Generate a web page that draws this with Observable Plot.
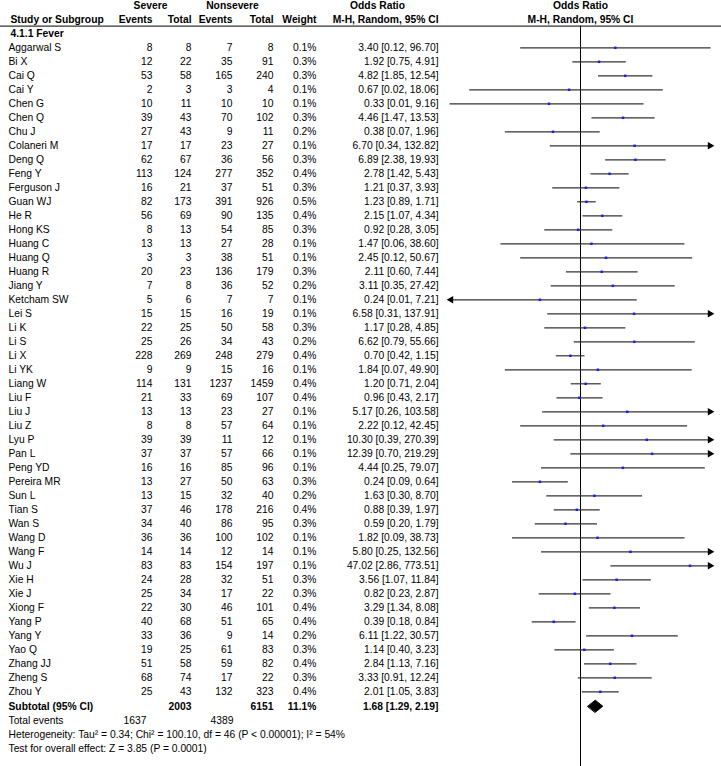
<!DOCTYPE html>
<html>
<head>
<meta charset="utf-8">
<script src="https://cdn.jsdelivr.net/npm/d3@7"></script>
<script src="https://cdn.jsdelivr.net/npm/@observablehq/plot@0.6"></script>
<style>
  html, body { margin: 0; padding: 0; background: #fff; }
  svg { display: block; }
</style>
</head>
<body>
<div id="chart"></div>
<script>
// ---------- data ----------
const studies = ["Aggarwal S","Bi X","Cai Q","Cai Y","Chen G","Chen Q","Chu J","Colaneri M","Deng Q","Feng Y","Ferguson J","Guan WJ","He R","Hong KS","Huang C","Huang Q","Huang R","Jiang Y","Ketcham SW","Lei S","Li K","Li S","Li X","Li YK","Liang W","Liu F","Liu J","Liu Z","Lyu P","Pan L","Peng YD","Pereira MR","Sun L","Tian S","Wan S","Wang D","Wang F","Wu J","Xie H","Xie J","Xiong F","Yang P","Yang Y","Yao Q","Zhang JJ","Zheng S","Zhou Y"];
const severeEvents = [8,12,53,2,10,39,27,17,62,113,16,82,56,8,13,3,20,7,5,15,22,25,228,9,114,21,13,8,39,37,16,13,13,37,34,36,14,83,24,25,22,40,33,19,51,68,25];
const severeTotal = [8,22,58,3,11,43,43,17,67,124,21,173,69,13,13,3,23,8,6,15,25,26,269,9,131,33,13,8,39,37,16,27,15,46,40,36,14,83,28,34,30,68,36,25,58,74,43];
const nonsevereEvents = [7,35,165,3,10,70,9,23,36,277,37,391,90,54,27,38,136,36,7,16,50,34,248,15,1237,69,23,57,11,57,85,50,32,178,86,100,12,154,32,17,46,51,9,61,59,17,132];
const nonsevereTotal = [8,91,240,4,10,102,11,27,56,352,51,926,135,85,28,51,179,52,7,19,58,43,279,16,1459,107,27,64,12,66,96,63,40,216,95,102,14,197,51,22,101,65,14,83,82,22,323];
const weights = [0.1,0.3,0.3,0.1,0.1,0.3,0.2,0.1,0.3,0.4,0.3,0.5,0.4,0.3,0.1,0.1,0.3,0.2,0.1,0.1,0.3,0.2,0.4,0.1,0.4,0.4,0.1,0.1,0.1,0.1,0.1,0.3,0.2,0.4,0.3,0.1,0.1,0.1,0.3,0.3,0.4,0.4,0.2,0.3,0.4,0.3,0.4];
const oddsRatio = [3.40,1.92,4.82,0.67,0.33,4.46,0.38,6.70,6.89,2.78,1.21,1.23,2.15,0.92,1.47,2.45,2.11,3.11,0.24,6.58,1.17,6.62,0.70,1.84,1.20,0.96,5.17,2.22,10.30,12.39,4.44,0.24,1.63,0.88,0.59,1.82,5.80,47.02,3.56,0.82,3.29,0.39,6.11,1.14,2.84,3.33,2.01];
const ciLow = [0.12,0.75,1.85,0.02,0.01,1.47,0.07,0.34,2.38,1.42,0.37,0.89,1.07,0.28,0.06,0.12,0.60,0.35,0.01,0.31,0.28,0.79,0.42,0.07,0.71,0.43,0.26,0.12,0.39,0.70,0.25,0.09,0.30,0.39,0.20,0.09,0.25,2.86,1.07,0.23,1.34,0.18,1.22,0.40,1.13,0.91,1.05];
const ciHigh = [96.70,4.91,12.54,18.06,9.16,13.53,1.96,132.82,19.93,5.43,3.93,1.71,4.34,3.05,38.60,50.67,7.44,27.42,7.21,137.91,4.85,55.66,1.15,49.90,2.04,2.17,103.58,42.45,270.39,219.29,79.07,0.64,8.70,1.97,1.79,38.73,132.56,773.51,11.84,2.87,8.08,0.84,30.57,3.23,7.16,12.24,3.83];
// lower limits that fall below the plotted range (shown rounded as 0.01)
const clippedLow = ["Ketcham SW"];

const subgroupLabel = "4.1.1 Fever";
const subtotalTotals = [2003, 6151];
const subtotalWeight = 11.1;
const subtotalOR = [1.68, 1.29, 2.19];
const totalEvents = [1637, 4389];
const heterogeneityText = "Heterogeneity: Tau\u00b2 = 0.34; Chi\u00b2 = 100.10, df = 46 (P < 0.00001); I\u00b2 = 54%";
const overallText = "Test for overall effect: Z = 3.85 (P = 0.0001)";
const xDomain = [0.01, 100];

// ---------- derived table ----------
const fmt2 = d3.format(".2f");
const rows = studies.map((s, i) => ({
  row: i, study: s,
  se: String(severeEvents[i]), st: String(severeTotal[i]),
  ne: String(nonsevereEvents[i]), nt: String(nonsevereTotal[i]),
  w: weights[i].toFixed(1) + "%",
  or: oddsRatio[i], lo: ciLow[i], hi: ciHigh[i],
  txt: `${fmt2(oddsRatio[i])} [${fmt2(ciLow[i])}, ${fmt2(ciHigh[i])}]`,
  x1: Math.max(ciLow[i], xDomain[0]), x2: Math.min(ciHigh[i], xDomain[1]),
  arrowL: clippedLow.includes(s) || ciLow[i] < xDomain[0],
  arrowR: ciHigh[i] > xDomain[1]
}));
const nRows = studies.length;

// layout (row units)
const R_TOP = -3.02, R_HEAD = -1.99, R_RULE = -1.55, R_GROUP = -1.02;
const R_SUB = nRows + 0.03, R_TOT = nRows + 1.1, R_HET = nRows + 2.06, R_TEST = nRows + 3.07, R_END = nRows + 4.4;
const col = {study: 8, sevE: 152, sevT: 191, nonE: 232, nonT: 273, weight: 316, orTxt: 438, sevHead: 150, nonHead: 232, orHead: 377, totE1: 146, totE2: 233};

const FS = 10.3;
const font = "'Liberation Sans', Arial, Helvetica, sans-serif";

const T = (data, opts) => Plot.text(data, {frameAnchor: "left", fontSize: FS, fill: "#000", lineAnchor: "middle", ...opts});
const one = [0];

const diamondH = 0.43;
const diamond = [
  {x: subtotalOR[1], y: R_SUB},
  {x: subtotalOR[0], y: R_SUB - diamondH},
  {x: subtotalOR[2], y: R_SUB},
  {x: subtotalOR[0], y: R_SUB + diamondH}
];

const chart = Plot.plot({
  width: 721, height: 766,
  marginLeft: 0, marginRight: 0, marginTop: 0, marginBottom: 0,
  style: {fontFamily: font, fontSize: FS + "px", background: "#fff"},
  x: {type: "log", domain: xDomain, range: [449, 711], axis: null},
  y: {type: "linear", domain: [0, nRows - 1], range: [47.3, 47.3 + 14 * (nRows - 1)], axis: null},
  marks: [
    // header texts
    T(one, {y: () => R_TOP, text: () => "Severe", textAnchor: "middle", dx: col.sevHead, fontWeight: "bold"}),
    T(one, {y: () => R_TOP, text: () => "Nonsevere", textAnchor: "middle", dx: col.nonHead, fontWeight: "bold"}),
    T(one, {y: () => R_TOP, text: () => "Odds Ratio", textAnchor: "middle", dx: col.orHead, fontWeight: "bold"}),
    Plot.text(one, {x: () => 1, y: () => R_TOP, text: () => "Odds Ratio", fontWeight: "bold", fontSize: FS, lineAnchor: "middle"}),
    T(one, {y: () => R_HEAD, text: () => "Study or Subgroup", textAnchor: "start", dx: col.study + 2, fontWeight: "bold"}),
    T(one, {y: () => R_HEAD, text: () => "Events", textAnchor: "end", dx: col.sevE, fontWeight: "bold"}),
    T(one, {y: () => R_HEAD, text: () => "Total", textAnchor: "end", dx: col.sevT, fontWeight: "bold"}),
    T(one, {y: () => R_HEAD, text: () => "Events", textAnchor: "end", dx: col.nonE, fontWeight: "bold"}),
    T(one, {y: () => R_HEAD, text: () => "Total", textAnchor: "end", dx: col.nonT, fontWeight: "bold"}),
    T(one, {y: () => R_HEAD, text: () => "Weight", textAnchor: "end", dx: col.weight, fontWeight: "bold"}),
    T(one, {y: () => R_HEAD, text: () => "M-H, Random, 95% CI", textAnchor: "end", dx: col.orTxt, fontWeight: "bold"}),
    Plot.text(one, {x: () => 1, y: () => R_HEAD, text: () => "M-H, Random, 95% CI", fontWeight: "bold", fontSize: FS, lineAnchor: "middle"}),
    Plot.ruleY([R_RULE], {stroke: "#000", strokeWidth: 1}),
    T(one, {y: () => R_GROUP, text: () => subgroupLabel, textAnchor: "start", dx: col.study + 2, fontWeight: "bold"}),

    // study rows
    T(rows, {y: "row", text: "study", textAnchor: "start", dx: col.study}),
    T(rows, {y: "row", text: "se", textAnchor: "end", dx: col.sevE}),
    T(rows, {y: "row", text: "st", textAnchor: "end", dx: col.sevT}),
    T(rows, {y: "row", text: "ne", textAnchor: "end", dx: col.nonE}),
    T(rows, {y: "row", text: "nt", textAnchor: "end", dx: col.nonT}),
    T(rows, {y: "row", text: "w", textAnchor: "end", dx: col.weight}),
    T(rows, {y: "row", text: "txt", textAnchor: "end", dx: col.orTxt}),

    // reference line at OR = 1
    Plot.ruleX([1], {y1: R_RULE, y2: R_END, stroke: "#000", strokeWidth: 1}),

    // confidence intervals
    Plot.link(rows, {x1: "x1", x2: "x2", y1: "row", y2: "row", stroke: "#333", strokeWidth: 1.2}),
    Plot.dot(rows.filter(d => d.arrowR), {x: "x2", y: "row", symbol: "triangle", r: 2.8, rotate: 90, fill: "#000", stroke: "none", dx: -1.5}),
    Plot.dot(rows.filter(d => d.arrowL), {x: "x1", y: "row", symbol: "triangle", r: 2.8, rotate: -90, fill: "#000", stroke: "none", dx: 1.5}),
    Plot.dot(rows, {x: "or", y: "row", symbol: "square", r: 1.4, fill: "#1a1aff", stroke: "none"}),

    // subtotal
    T(one, {y: () => R_SUB, text: () => "Subtotal (95% CI)", textAnchor: "start", dx: col.study, fontWeight: "bold"}),
    T(one, {y: () => R_SUB, text: () => String(subtotalTotals[0]), textAnchor: "end", dx: col.sevT, fontWeight: "bold"}),
    T(one, {y: () => R_SUB, text: () => String(subtotalTotals[1]), textAnchor: "end", dx: col.nonT, fontWeight: "bold"}),
    T(one, {y: () => R_SUB, text: () => subtotalWeight.toFixed(1) + "%", textAnchor: "end", dx: col.weight, fontWeight: "bold"}),
    T(one, {y: () => R_SUB, text: () => `${fmt2(subtotalOR[0])} [${fmt2(subtotalOR[1])}, ${fmt2(subtotalOR[2])}]`, textAnchor: "end", dx: col.orTxt, fontWeight: "bold"}),
    Plot.line(diamond, {x: "x", y: "y", curve: "linear-closed", fill: "#000", stroke: "#000", strokeWidth: 1}),

    // footer
    T(one, {y: () => R_TOT, text: () => "Total events", textAnchor: "start", dx: col.study}),
    T(one, {y: () => R_TOT, text: () => String(totalEvents[0]), textAnchor: "end", dx: col.totE1}),
    T(one, {y: () => R_TOT, text: () => String(totalEvents[1]), textAnchor: "end", dx: col.totE2}),
    T(one, {y: () => R_HET, text: () => heterogeneityText, textAnchor: "start", dx: col.study}),
    T(one, {y: () => R_TEST, text: () => overallText, textAnchor: "start", dx: col.study})
  ]
});
document.getElementById("chart").appendChild(chart);
</script>
</body>
</html>
